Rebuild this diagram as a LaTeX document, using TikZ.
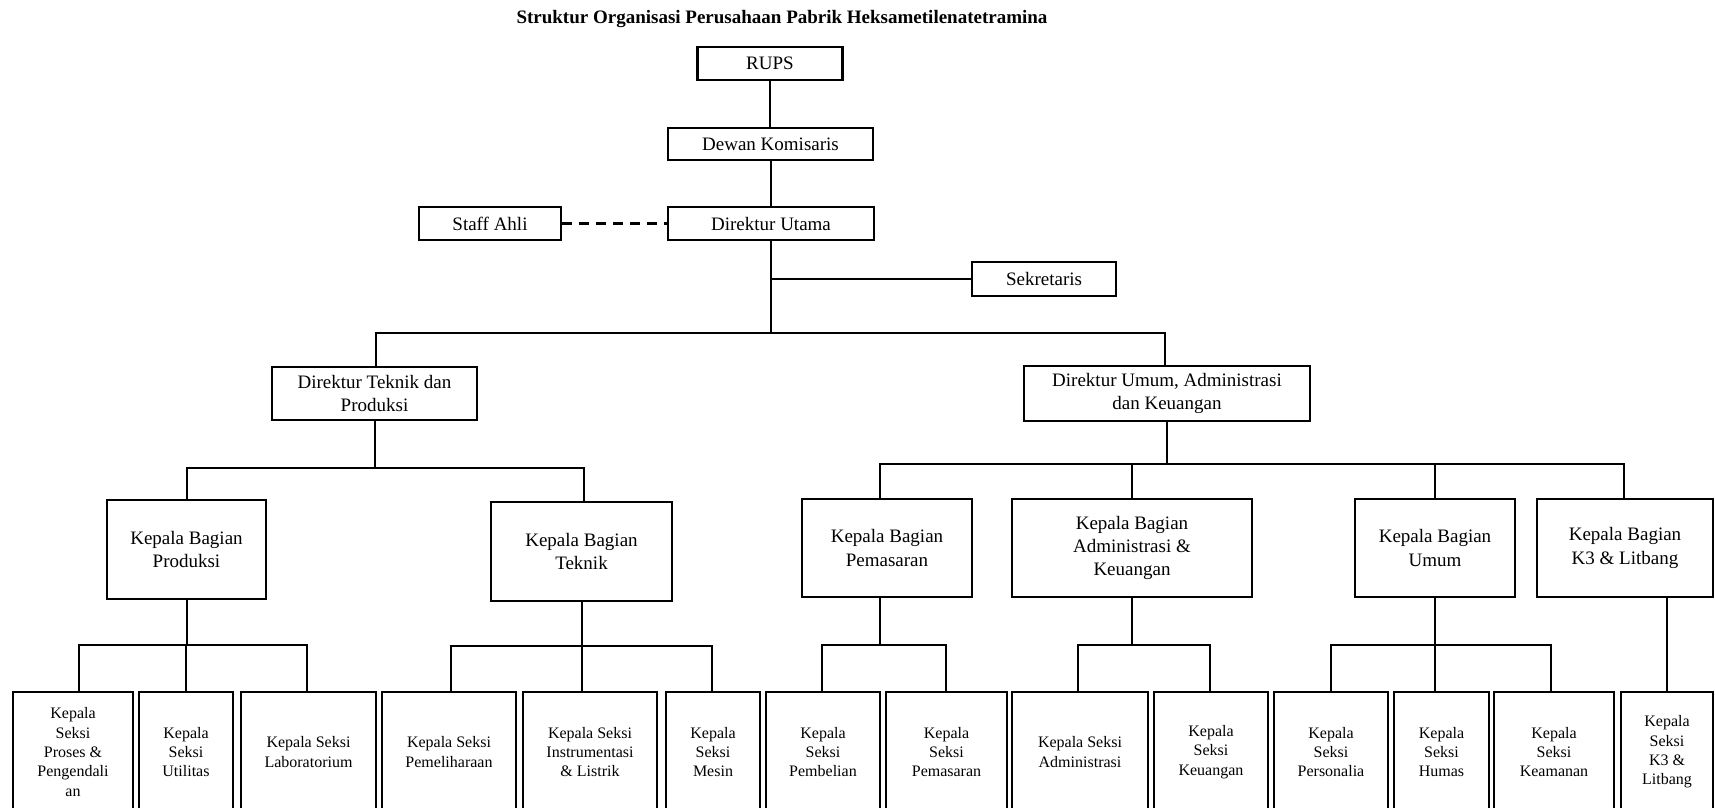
\documentclass[tikz,border=0pt]{standalone}
\usepackage{fontspec}
\setmainfont{Liberation Serif}
\begin{document}
\begin{tikzpicture}[x=1pt,y=-1pt,
  box/.style={draw, line width=2.4pt, align=center, inner sep=0pt, font=\fontsize{19}{23.3}\selectfont},
  sbox/.style={draw, line width=2.4pt, align=center, inner sep=0pt, minimum height=120pt, font=\fontsize{16}{19.3}\selectfont},
  conn/.style={line width=2pt},
  dashconn/.style={line width=2.4pt, dash pattern=on 10pt off 7pt}]
\useasboundingbox (0,0) rectangle (1715,808);
\clip (0,0) rectangle (1715,808);
\fill[white] (0,0) rectangle (1715,808);

\node[font=\bfseries\fontsize{19}{23}\selectfont] (title) at (782,19) {Struktur Organisasi Perusahaan Pabrik Heksametilenatetramina};

\node[box, minimum width=145pt, minimum height=33pt] (rups) at (770,63.5) {RUPS};
\node[box, minimum width=205pt, minimum height=32pt] (dk) at (770.5,144) {Dewan Komisaris};
\node[box, minimum width=206pt, minimum height=33pt] (du) at (771,223.5) {Direktur Utama};
\node[box, minimum width=142pt, minimum height=33pt] (sa) at (490,223.5) {Staff Ahli};
\node[box, minimum width=144pt, minimum height=34pt] (sek) at (1044,279) {Sekretaris};
\node[box, minimum width=205pt, minimum height=53pt] (dtp) at (374.5,393.5) {Direktur Teknik dan\\Produksi};
\node[box, minimum width=286pt, minimum height=55pt] (duak) at (1167,393.5) {Direktur Umum, Administrasi\\dan Keuangan};

\node[box, minimum width=159pt, minimum height=99pt] (kbprod) at (186.5,549.5) {Kepala Bagian\\Produksi};
\node[box, minimum width=181pt, minimum height=99pt] (kbtek) at (581.5,551.5) {Kepala Bagian\\Teknik};
\node[box, minimum width=170pt, minimum height=98pt] (kbpem) at (887,548) {Kepala Bagian\\Pemasaran};
\node[box, minimum width=240pt, minimum height=98pt] (kbadm) at (1132,548) {Kepala Bagian\\Administrasi \&\\Keuangan};
\node[box, minimum width=160pt, minimum height=98pt] (kbumum) at (1435,548) {Kepala Bagian\\Umum};
\node[box, minimum width=176pt, minimum height=98pt] (kbk3) at (1625,548) {Kepala Bagian\\K3 \& Litbang};

\node[sbox, minimum width=120pt] (ks1) at (73,752) {Kepala\\Seksi\\Proses \&\\Pengendali\\an};
\node[sbox, minimum width=94pt] (ks2) at (186,752) {Kepala\\Seksi\\Utilitas};
\node[sbox, minimum width=135pt] (ks3) at (308.5,752) {Kepala Seksi\\Laboratorium};
\node[sbox, minimum width=134pt] (ks4) at (449,752) {Kepala Seksi\\Pemeliharaan};
\node[sbox, minimum width=134pt] (ks5) at (590,752) {Kepala Seksi\\Instrumentasi\\\& Listrik};
\node[sbox, minimum width=94pt] (ks6) at (713,752) {Kepala\\Seksi\\Mesin};
\node[sbox, minimum width=114pt] (ks7) at (823,752) {Kepala\\Seksi\\Pembelian};
\node[sbox, minimum width=121pt] (ks8) at (946.5,752) {Kepala\\Seksi\\Pemasaran};
\node[sbox, minimum width=136pt] (ks9) at (1080,752) {Kepala Seksi\\Administrasi};
\node[sbox, minimum width=114pt] (ks10) at (1211,752) {Kepala\\Seksi\\Keuangan};
\node[sbox, minimum width=114pt] (ks11) at (1331,752) {Kepala\\Seksi\\Personalia};
\node[sbox, minimum width=95pt] (ks12) at (1441.5,752) {Kepala\\Seksi\\Humas};
\node[sbox, minimum width=120pt] (ks13) at (1554,752) {Kepala\\Seksi\\Keamanan};
\node[sbox, minimum width=92pt] (ks14) at (1667,752) {Kepala\\Seksi\\K3 \&\\Litbang};

% top chain
\draw[conn] (rups.south) -- (rups.south |- dk.north);
\draw[conn] (dk.south) -- (dk.south |- du.north);
\draw[dashconn] (sa.east) -- (du.west);
\coordinate (mj) at (771,333);
\draw[conn] (du.south) -- (mj);
\draw[conn] (du.south |- sek.west) -- (sek.west);
\coordinate (ml) at (376,333);
\coordinate (mr) at (1165,333);
\draw[conn] (dtp.north -| ml) -- (ml) -- (mr) -- (mr |- duak.north);

% direktur teknik
\coordinate (b1l) at (187,468);
\coordinate (b1r) at (584,468);
\draw[conn] (dtp.south) -- (dtp.south |- b1l);
\draw[conn] (kbprod.north -| b1l) -- (b1l) -- (b1r) -- (b1r |- kbtek.north);

% direktur umum
\coordinate (b2l) at (880,464);
\coordinate (b2r) at (1624,464);
\draw[conn] (duak.south) -- (duak.south |- b2l);
\draw[conn] (kbpem.north -| b2l) -- (b2l) -- (b2r) -- (b2r |- kbk3.north);
\draw[conn] (b2l -| kbadm.north) -- (kbadm.north);
\draw[conn] (b2l -| kbumum.north) -- (kbumum.north);

% produksi
\coordinate (g1l) at (79,645);
\coordinate (g1r) at (307,645);
\draw[conn] (kbprod.south) -- (kbprod.south |- g1l);
\draw[conn] (ks1.north -| g1l) -- (g1l) -- (g1r) -- (g1r |- ks3.north);
\draw[conn] (g1l -| ks2.north) -- (ks2.north);

% teknik
\coordinate (g2l) at (451,646);
\coordinate (g2r) at (712,646);
\draw[conn] (kbtek.south) -- (kbtek.south |- ks5.north);
\draw[conn] (ks4.north -| g2l) -- (g2l) -- (g2r) -- (g2r |- ks6.north);

% pemasaran
\coordinate (g3l) at (822,645);
\coordinate (g3r) at (946,645);
\draw[conn] (kbpem.south -| b2l) -- (g3l -| b2l);
\draw[conn] (ks7.north -| g3l) -- (g3l) -- (g3r) -- (g3r |- ks8.north);

% administrasi
\coordinate (g4l) at (1078,645);
\coordinate (g4r) at (1210,645);
\draw[conn] (kbadm.south) -- (kbadm.south |- g4l);
\draw[conn] (ks9.north -| g4l) -- (g4l) -- (g4r) -- (g4r |- ks10.north);

% umum
\coordinate (g5l) at (1331,645);
\coordinate (g5r) at (1551,645);
\draw[conn] (kbumum.south) -- (kbumum.south |- ks12.north);
\draw[conn] (ks11.north -| g5l) -- (g5l) -- (g5r) -- (g5r |- ks13.north);

% k3
\draw[conn] (kbk3.south -| ks14.north) -- (ks14.north);
\end{tikzpicture}
\end{document}
